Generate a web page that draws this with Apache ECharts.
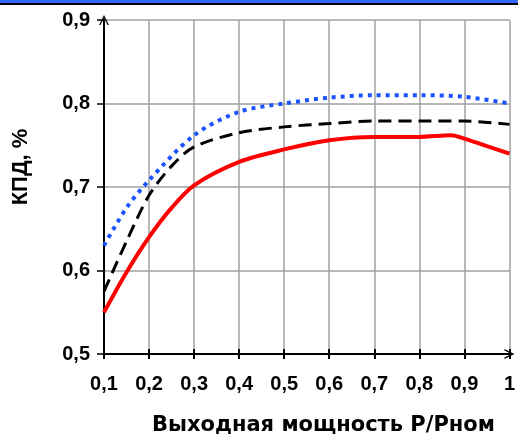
<!DOCTYPE html>
<html>
<head>
<meta charset="utf-8">
<script src="https://cdn.jsdelivr.net/npm/echarts@6/dist/echarts.min.js"></script>
<style>
  html, body { margin: 0; padding: 0; background: #fff; }
  #chart { width: 518px; height: 437px; }
</style>
</head>
<body>
<div id="chart"></div>
<script>
// данные
const xRed = [0.1, 0.15, 0.2, 0.25, 0.3, 0.4, 0.5, 0.6, 0.7, 0.8, 0.87, 0.9, 1.0]
const redVals = [0.55, 0.598, 0.64, 0.675, 0.702, 0.73, 0.745, 0.756, 0.76, 0.76, 0.762, 0.758, 0.74]
const xBlack = [0.1, 0.15, 0.2, 0.25, 0.3, 0.4, 0.5, 0.6, 0.7, 0.8, 0.9, 1.0]
const blackVals = [0.575, 0.635, 0.69, 0.725, 0.748, 0.765, 0.772, 0.776, 0.779, 0.779, 0.779, 0.775]
const xBlue = [0.1, 0.15, 0.2, 0.3, 0.4, 0.5, 0.6, 0.7, 0.8, 0.9, 1.0]
const blueVals = [0.63, 0.675, 0.708, 0.762, 0.79, 0.8, 0.807, 0.81, 0.81, 0.808, 0.8]

const pairs = (xs, ys) => xs.map((x, i) => [x, ys[i]])
const fmt = v => String(+v.toFixed(1)).replace('.', ',')
const arrow = 'path://M0,10 L5,0 L10,10 L8.6,10 L5,3 L1.4,10 Z'

let myChart = echarts.init(document.getElementById('chart'))
let option = {
  animation: false,
  grid: { left: 104, right: 5, top: 20, bottom: 83 },
  graphic: [
    { type: 'rect', shape: { x: 0, y: 0, width: 518, height: 3 }, style: { fill: '#3366ff' } },
    { type: 'rect', shape: { x: 0, y: 3, width: 518, height: 2 }, style: { fill: '#000' } },
    {
      type: 'text', x: 152, y: 426,
      style: { text: 'Выходная мощность P/Pном', font: 'bold 21px "DejaVu Sans"', fill: '#000', verticalAlign: 'middle' }
    },
    {
      type: 'text', x: 21, y: 167, rotation: Math.PI / 2,
      style: { text: 'КПД, %', font: 'bold 22px "Liberation Sans"', fill: '#000', align: 'center', verticalAlign: 'middle' }
    }
  ],
  xAxis: [{
    type: 'value',
    min: 0.1,
    max: 1,
    interval: 0.1,
    axisLine: {
      show: true,
      symbol: ['none', arrow],
      symbolSize: [10, 10],
      lineStyle: { color: '#000', width: 2 }
    },
    axisTick: { show: true, length: 5, lineStyle: { color: '#000', width: 2 } },
    axisLabel: {
      formatter: fmt,
      margin: 20,
      fontFamily: 'Liberation Sans',
      fontWeight: 'bold',
      fontSize: 20,
      color: '#000'
    },
    splitLine: { show: true, lineStyle: { color: '#a0a0a0', width: 1.5 } }
  }, {
    type: 'value',
    position: 'bottom',
    min: 0.1,
    max: 1,
    interval: 0.1,
    axisLine: { show: false },
    axisTick: { show: true, inside: true, length: 5, lineStyle: { color: '#000', width: 2 } },
    axisLabel: { show: false },
    splitLine: { show: false }
  }],
  yAxis: {
    type: 'value',
    min: 0.5,
    max: 0.9,
    interval: 0.1,
    axisLine: {
      show: true,
      symbol: ['none', arrow],
      symbolSize: [10, 10],
      lineStyle: { color: '#000', width: 2 }
    },
    axisTick: { show: true, length: 7, lineStyle: { color: '#000', width: 1.5 } },
    axisLabel: {
      formatter: fmt,
      margin: 14,
      fontFamily: 'Liberation Sans',
      fontWeight: 'bold',
      fontSize: 20,
      color: '#000'
    },
    splitLine: { show: true, lineStyle: { color: '#a0a0a0', width: 1.5 } }
  },
  series: [{
    name: 'blue',
    type: 'line',
    smooth: 0.3,
    showSymbol: false,
    data: pairs(xBlue, blueVals),
    lineStyle: { color: '#1a53ff', width: 4, type: [4, 5] },
    z: 3
  }, {
    name: 'black',
    type: 'line',
    smooth: 0.3,
    showSymbol: false,
    data: pairs(xBlack, blackVals),
    lineStyle: { color: '#000', width: 3, type: [13, 7] },
    z: 3
  }, {
    name: 'red',
    type: 'line',
    smooth: 0.3,
    showSymbol: false,
    data: pairs(xRed, redVals),
    lineStyle: { color: '#ff0000', width: 4 },
    z: 3
  }]
}
myChart.setOption(option)
</script>
</body>
</html>
